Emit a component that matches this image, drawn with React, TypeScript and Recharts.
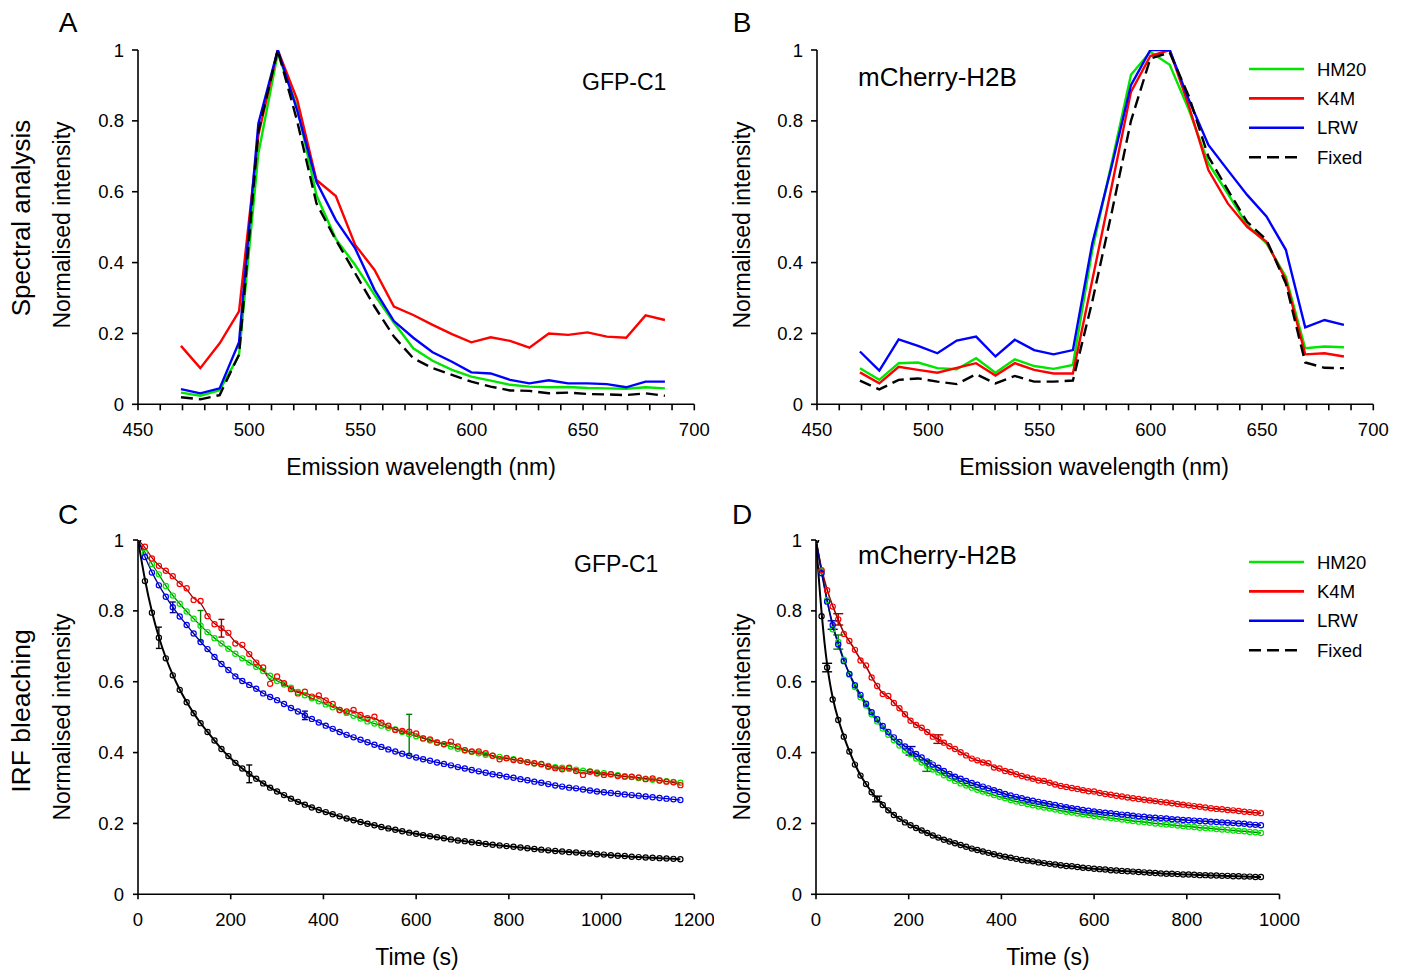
import React from 'react';
import { LineChart, Line, XAxis, YAxis, ErrorBar, Legend } from 'recharts';

const FONT = '"Liberation Sans", Arial, Helvetica, sans-serif';
const GREEN = '#00e600';
const RED = '#ff0000';
const BLUE = '#0000ff';
const BLACK = '#000000';
const DARK_GREEN = '#008000';
const DARK_RED = '#990000';
const DARK_BLUE = '#00008b';

// ---------- Spectral analysis (A, B) ----------
const wavelengths = [469.3, 478.0, 486.7, 495.4, 504.1, 512.8, 521.5, 530.2, 538.9, 547.6, 556.3, 565.0, 573.7,
  582.4, 591.1, 599.8, 608.5, 617.2, 625.9, 634.6, 643.3, 652.0, 660.7, 669.4, 678.1, 686.8];
const wavelengthTicks = [450, 460, 470, 480, 490, 500, 510, 520, 530, 540, 550, 560, 570, 580, 590, 600, 610, 620,
  630, 640, 650, 660, 670, 680, 690, 700];
const intensityTicks = [0, 0.2, 0.4, 0.6, 0.8, 1];

const gfpSpecHM20 = [0.033, 0.024, 0.040, 0.139, 0.708, 0.990, 0.840, 0.590, 0.467, 0.393, 0.309, 0.230, 0.158,
  0.123, 0.097, 0.078, 0.067, 0.055, 0.050, 0.048, 0.049, 0.046, 0.045, 0.044, 0.048, 0.045];
const gfpSpecK4M = [0.165, 0.102, 0.172, 0.262, 0.760, 1.000, 0.861, 0.633, 0.588, 0.450, 0.379, 0.276, 0.252,
  0.224, 0.198, 0.175, 0.189, 0.179, 0.160, 0.200, 0.196, 0.203, 0.191, 0.188, 0.251, 0.238];
const gfpSpecLRW = [0.043, 0.031, 0.045, 0.175, 0.793, 1.000, 0.830, 0.628, 0.520, 0.440, 0.323, 0.235, 0.188,
  0.147, 0.120, 0.090, 0.087, 0.069, 0.059, 0.068, 0.059, 0.059, 0.057, 0.048, 0.064, 0.064];
const gfpSpecFixed = [0.020, 0.014, 0.026, 0.140, 0.770, 1.000, 0.800, 0.567, 0.464, 0.370, 0.276, 0.191, 0.130,
  0.102, 0.083, 0.064, 0.050, 0.039, 0.038, 0.031, 0.033, 0.029, 0.028, 0.026, 0.031, 0.024];

const mchSpecHM20 = [0.102, 0.069, 0.116, 0.118, 0.102, 0.099, 0.130, 0.089, 0.127, 0.108, 0.100, 0.111, 0.435,
  0.680, 0.930, 0.995, 0.958, 0.830, 0.680, 0.595, 0.506, 0.454, 0.360, 0.158, 0.163, 0.161];
const mchSpecK4M = [0.090, 0.059, 0.106, 0.097, 0.089, 0.103, 0.116, 0.081, 0.116, 0.097, 0.087, 0.087, 0.350,
  0.614, 0.882, 0.983, 1.000, 0.840, 0.661, 0.567, 0.501, 0.459, 0.351, 0.141, 0.144, 0.135];
const mchSpecLRW = [0.149, 0.095, 0.183, 0.165, 0.144, 0.180, 0.191, 0.135, 0.182, 0.153, 0.141, 0.153, 0.454,
  0.671, 0.901, 1.000, 1.000, 0.858, 0.732, 0.661, 0.591, 0.530, 0.436, 0.217, 0.238, 0.224];
const mchSpecFixed = [0.067, 0.042, 0.069, 0.073, 0.064, 0.057, 0.085, 0.059, 0.080, 0.064, 0.064, 0.067, 0.290,
  0.540, 0.800, 0.976, 0.993, 0.868, 0.699, 0.605, 0.515, 0.464, 0.341, 0.118, 0.103, 0.102];

// ---------- IRF bleaching (C, D) ----------
const GFP_STEP_S = 15;
const MCH_STEP_S = 12;
const gfpTimeTicks = [0, 200, 400, 600, 800, 1000, 1200];
const mchTimeTicks = [0, 200, 400, 600, 800, 1000];

const gfpBleachHM20 = [1.000, 0.965, 0.932, 0.903, 0.870, 0.843, 0.820, 0.798, 0.778, 0.758,
  0.740, 0.723, 0.708, 0.693, 0.679, 0.666, 0.654, 0.642, 0.630, 0.617,
  0.602, 0.592, 0.583, 0.571, 0.562, 0.553, 0.545, 0.536, 0.528, 0.520,
  0.512, 0.504, 0.496, 0.488, 0.482, 0.476, 0.470, 0.465, 0.458, 0.452,
  0.446, 0.440, 0.434, 0.429, 0.423, 0.417, 0.411, 0.406, 0.402, 0.398,
  0.394, 0.391, 0.388, 0.385, 0.381, 0.377, 0.373, 0.369, 0.366, 0.362,
  0.359, 0.357, 0.354, 0.352, 0.349, 0.347, 0.344, 0.342, 0.339, 0.336,
  0.333, 0.331, 0.328, 0.326, 0.323, 0.321, 0.319, 0.317, 0.315];
const gfpBleachK4M = [1.000, 0.981, 0.948, 0.927, 0.913, 0.898, 0.876, 0.864, 0.831, 0.828,
  0.785, 0.762, 0.751, 0.738, 0.708, 0.704, 0.678, 0.654, 0.640, 0.594,
  0.615, 0.596, 0.579, 0.567, 0.572, 0.558, 0.561, 0.547, 0.537, 0.520,
  0.516, 0.520, 0.506, 0.497, 0.501, 0.484, 0.476, 0.464, 0.461, 0.459,
  0.454, 0.440, 0.437, 0.428, 0.424, 0.431, 0.417, 0.407, 0.403, 0.403,
  0.398, 0.391, 0.381, 0.384, 0.379, 0.377, 0.373, 0.370, 0.368, 0.360,
  0.356, 0.353, 0.357, 0.348, 0.337, 0.346, 0.341, 0.337, 0.339, 0.334,
  0.332, 0.332, 0.330, 0.325, 0.327, 0.321, 0.318, 0.316, 0.308];
const gfpBleachLRW = [1.000, 0.952, 0.908, 0.872, 0.840, 0.810, 0.784, 0.760, 0.736, 0.712,
  0.692, 0.670, 0.650, 0.633, 0.615, 0.602, 0.591, 0.580, 0.567, 0.557,
  0.548, 0.537, 0.526, 0.516, 0.505, 0.495, 0.485, 0.476, 0.467, 0.458,
  0.450, 0.443, 0.436, 0.429, 0.422, 0.416, 0.409, 0.403, 0.397, 0.391,
  0.386, 0.381, 0.377, 0.372, 0.368, 0.364, 0.359, 0.355, 0.351, 0.347,
  0.343, 0.339, 0.336, 0.332, 0.329, 0.325, 0.322, 0.318, 0.315, 0.311,
  0.307, 0.304, 0.301, 0.299, 0.296, 0.293, 0.290, 0.288, 0.286, 0.284,
  0.282, 0.280, 0.278, 0.276, 0.274, 0.272, 0.270, 0.268, 0.266];
const gfpBleachFixed = [1.000, 0.884, 0.795, 0.724, 0.666, 0.618, 0.577, 0.542, 0.511, 0.483,
  0.458, 0.434, 0.410, 0.390, 0.371, 0.355, 0.340, 0.326, 0.313, 0.301,
  0.290, 0.280, 0.270, 0.261, 0.253, 0.245, 0.238, 0.232, 0.226, 0.220,
  0.214, 0.209, 0.204, 0.199, 0.195, 0.190, 0.186, 0.182, 0.178, 0.174,
  0.171, 0.167, 0.164, 0.161, 0.158, 0.155, 0.152, 0.150, 0.147, 0.145,
  0.142, 0.140, 0.138, 0.136, 0.134, 0.132, 0.130, 0.128, 0.126, 0.124,
  0.122, 0.121, 0.119, 0.118, 0.116, 0.115, 0.113, 0.112, 0.110, 0.109,
  0.108, 0.106, 0.105, 0.104, 0.103, 0.102, 0.101, 0.100, 0.099];

const mchBleachHM20 = [1.000, 0.912, 0.830, 0.748, 0.712, 0.662, 0.620, 0.585, 0.556, 0.533,
  0.508, 0.488, 0.468, 0.450, 0.435, 0.420, 0.406, 0.395, 0.383, 0.372,
  0.362, 0.352, 0.344, 0.336, 0.328, 0.320, 0.313, 0.307, 0.301, 0.295,
  0.290, 0.285, 0.280, 0.275, 0.271, 0.266, 0.262, 0.258, 0.255, 0.251,
  0.248, 0.245, 0.242, 0.239, 0.236, 0.233, 0.231, 0.228, 0.226, 0.224,
  0.221, 0.219, 0.217, 0.215, 0.213, 0.211, 0.209, 0.207, 0.205, 0.204,
  0.202, 0.200, 0.199, 0.197, 0.196, 0.194, 0.193, 0.191, 0.190, 0.188,
  0.187, 0.186, 0.184, 0.183, 0.182, 0.180, 0.179, 0.178, 0.176, 0.175,
  0.173];
const mchBleachK4M = [1.000, 0.915, 0.858, 0.812, 0.776, 0.735, 0.715, 0.690, 0.660, 0.646,
  0.612, 0.588, 0.565, 0.560, 0.540, 0.525, 0.508, 0.490, 0.478, 0.470,
  0.458, 0.445, 0.438, 0.428, 0.418, 0.410, 0.401, 0.392, 0.383, 0.378,
  0.372, 0.370, 0.358, 0.355, 0.348, 0.345, 0.339, 0.334, 0.330, 0.326,
  0.321, 0.320, 0.315, 0.310, 0.306, 0.303, 0.300, 0.297, 0.294, 0.291,
  0.290, 0.286, 0.283, 0.281, 0.278, 0.276, 0.273, 0.271, 0.269, 0.267,
  0.265, 0.263, 0.261, 0.259, 0.257, 0.255, 0.253, 0.251, 0.249, 0.247,
  0.245, 0.243, 0.241, 0.240, 0.238, 0.237, 0.235, 0.233, 0.232, 0.230,
  0.229];
const mchBleachLRW = [1.000, 0.906, 0.826, 0.760, 0.705, 0.658, 0.622, 0.590, 0.563, 0.538,
  0.514, 0.494, 0.475, 0.458, 0.443, 0.430, 0.417, 0.405, 0.396, 0.386,
  0.375, 0.366, 0.357, 0.348, 0.340, 0.332, 0.326, 0.320, 0.314, 0.309,
  0.304, 0.299, 0.294, 0.289, 0.283, 0.279, 0.275, 0.271, 0.267, 0.264,
  0.261, 0.258, 0.255, 0.252, 0.249, 0.246, 0.243, 0.241, 0.238, 0.236,
  0.234, 0.232, 0.230, 0.229, 0.227, 0.225, 0.224, 0.222, 0.220, 0.219,
  0.217, 0.216, 0.215, 0.214, 0.212, 0.211, 0.210, 0.209, 0.208, 0.207,
  0.206, 0.205, 0.204, 0.203, 0.202, 0.201, 0.200, 0.199, 0.197, 0.196,
  0.195];
const mchBleachFixed = [1.000, 0.785, 0.640, 0.550, 0.492, 0.445, 0.403, 0.366, 0.335, 0.311,
  0.288, 0.269, 0.252, 0.237, 0.224, 0.213, 0.203, 0.195, 0.187, 0.180,
  0.173, 0.166, 0.160, 0.154, 0.149, 0.144, 0.139, 0.134, 0.129, 0.125,
  0.121, 0.117, 0.113, 0.109, 0.106, 0.103, 0.100, 0.097, 0.095, 0.093,
  0.090, 0.088, 0.086, 0.084, 0.082, 0.080, 0.079, 0.077, 0.075, 0.074,
  0.072, 0.071, 0.070, 0.068, 0.067, 0.066, 0.065, 0.064, 0.063, 0.062,
  0.061, 0.060, 0.059, 0.058, 0.058, 0.057, 0.056, 0.056, 0.055, 0.054,
  0.054, 0.053, 0.053, 0.052, 0.052, 0.051, 0.051, 0.050, 0.050, 0.049,
  0.049];

// error bars: [time (s), half-range]
const gfpErrHM20: [number, number][] = [[135, 0.043], [585, 0.056]];
const gfpErrK4M: [number, number][] = [[180, 0.025]];
const gfpErrLRW: [number, number][] = [[75, 0.015], [360, 0.012]];
const gfpErrFixed: [number, number][] = [[45, 0.03], [240, 0.025]];
const mchErrHM20: [number, number][] = [[48, 0.02], [240, 0.015]];
const mchErrK4M: [number, number][] = [[48, 0.016], [264, 0.012]];
const mchErrLRW: [number, number][] = [[36, 0.012], [204, 0.012]];
const mchErrFixed: [number, number][] = [[24, 0.012], [132, 0.008]];

const gfpTimes = gfpBleachFixed.map((_, i) => i * GFP_STEP_S);
const mchTimes = mchBleachFixed.map((_, i) => i * MCH_STEP_S);

// ---------- layout helpers ----------
type Box = { pl: number; pr: number; pt: number; pb: number };
const MARGIN = { top: 20, right: 20, bottom: 50, left: 0 };
const Y_W = 80;
const X_H = 30;
function frame(b: Box) {
  return {
    left: b.pl - Y_W - MARGIN.left,
    top: b.pt - MARGIN.top,
    width: b.pr - b.pl + Y_W + MARGIN.left + MARGIN.right,
    height: b.pb - b.pt + MARGIN.top + MARGIN.bottom + X_H,
  };
}

const AXIS_STYLE = { stroke: '#000', strokeWidth: 1.6 };
const TICK_STYLE = { fill: '#000', fontSize: 18.5, fontFamily: FONT };

const legendItems = [
  { name: 'HM20', color: GREEN, dash: undefined as string | undefined, len: 55 },
  { name: 'K4M', color: RED, dash: undefined as string | undefined, len: 55 },
  { name: 'LRW', color: BLUE, dash: undefined as string | undefined, len: 55 },
  { name: 'Fixed', color: BLACK, dash: '12 6', len: 48 },
];

function LegendBox() {
  return (
    <svg width={150} height={116} style={{ display: 'block', overflow: 'visible' }}>
      {legendItems.map((it, i) => {
        const y = 14 + i * 29.4;
        return (
          <g key={it.name}>
            <line x1={5} x2={5 + it.len} y1={y} y2={y} stroke={it.color} strokeWidth={2.6} strokeDasharray={it.dash} />
            <text x={73} y={y} dy="0.355em" fontSize={18.5} fontFamily={FONT} fill="#000">{it.name}</text>
          </g>
        );
      })}
    </svg>
  );
}

type SpecSet = { HM20: number[]; K4M: number[]; LRW: number[]; Fixed: number[] };

function SpectrumPanel({ box, set, legendAt }: { box: Box; set: SpecSet; legendAt?: { left: number; top: number } }) {
  const f = frame(box);
  const rows = wavelengths.map((w, i) => ({ w, HM20: set.HM20[i], K4M: set.K4M[i], LRW: set.LRW[i], Fixed: set.Fixed[i] }));
  return (
    <div style={{ position: 'absolute', left: f.left, top: f.top }}>
      <LineChart width={f.width} height={f.height} data={rows} margin={MARGIN}>
        <XAxis type="number" dataKey="w" domain={[450, 700]} ticks={wavelengthTicks} interval={0} allowDataOverflow
          tickFormatter={(v: number) => (v % 50 === 0 ? String(v) : '')} height={X_H}
          tickSize={6} tickMargin={13} axisLine={AXIS_STYLE} tickLine={AXIS_STYLE} tick={TICK_STYLE} />
        <YAxis type="number" domain={[0, 1]} ticks={intensityTicks} interval={0} allowDataOverflow width={Y_W}
          tickSize={6} tickMargin={8} axisLine={AXIS_STYLE} tickLine={AXIS_STYLE} tick={TICK_STYLE} />
        <Line dataKey="HM20" stroke={GREEN} strokeWidth={2.4} dot={false} activeDot={false} type="linear" isAnimationActive={false} />
        <Line dataKey="K4M" stroke={RED} strokeWidth={2.4} dot={false} activeDot={false} type="linear" isAnimationActive={false} />
        <Line dataKey="LRW" stroke={BLUE} strokeWidth={2.4} dot={false} activeDot={false} type="linear" isAnimationActive={false} />
        <Line dataKey="Fixed" stroke={BLACK} strokeWidth={2.4} strokeDasharray="12 6" dot={false} activeDot={false} type="linear" isAnimationActive={false} />
        {legendAt && (
          <Legend content={() => <LegendBox />} layout="vertical" align="center" verticalAlign="middle"
            wrapperStyle={{ left: legendAt.left - f.left, top: legendAt.top - f.top, width: 150, height: 116 }} />
        )}
      </LineChart>
    </div>
  );
}

type BleachSeries = { key: string; values: number[]; errs: [number, number][]; dot: string; fit: string; fitWidth: number };

const hollowDot = (color: string) => (props: any) => {
  const { cx, cy, index } = props;
  if (cx == null || cy == null) return <g key={`d${index}`} />;
  return <circle key={`d${index}`} cx={cx} cy={cy} r={2.6} fill="none" stroke={color} strokeWidth={1.2} />;
};

function BleachPanel({ box, times, series, domainMax, ticks, capW, legendAt }: {
  box: Box; times: number[]; series: BleachSeries[]; domainMax: number; ticks: number[]; capW: number;
  legendAt?: { left: number; top: number };
}) {
  const f = frame(box);
  const rows = times.map((t, i) => {
    const row: Record<string, number | undefined> = { t };
    series.forEach((s) => {
      row[s.key] = s.values[i];
      const e = s.errs.find(([et]) => et === t);
      if (e) row[s.key + 'Err'] = e[1];
    });
    return row;
  });
  return (
    <div style={{ position: 'absolute', left: f.left, top: f.top }}>
      <LineChart width={f.width} height={f.height} data={rows} margin={MARGIN}>
        <XAxis type="number" dataKey="t" domain={[0, domainMax]} ticks={ticks} interval={0} allowDataOverflow height={X_H}
          tickSize={5} tickMargin={14} axisLine={AXIS_STYLE} tickLine={AXIS_STYLE} tick={TICK_STYLE} />
        <YAxis type="number" domain={[0, 1]} ticks={intensityTicks} interval={0} allowDataOverflow width={Y_W}
          tickSize={5} tickMargin={9} axisLine={AXIS_STYLE} tickLine={AXIS_STYLE} tick={TICK_STYLE} />
        {series.map((s) => (
          <Line key={s.key} dataKey={s.key} stroke={s.fit} strokeWidth={s.fitWidth} type="basis"
            dot={hollowDot(s.dot)} activeDot={false} isAnimationActive={false}>
            <ErrorBar dataKey={s.key + 'Err'} direction="y" width={capW} stroke={s.fit} strokeWidth={1.4} isAnimationActive={false} />
          </Line>
        ))}
        {legendAt && (
          <Legend content={() => <LegendBox />} layout="vertical" align="center" verticalAlign="middle"
            wrapperStyle={{ left: legendAt.left - f.left, top: legendAt.top - f.top, width: 150, height: 116 }} />
        )}
      </LineChart>
    </div>
  );
}

const boxA: Box = { pl: 137.7, pr: 694, pt: 50, pb: 404.3 };
const boxB: Box = { pl: 816.7, pr: 1373, pt: 50, pb: 404.3 };
const boxC: Box = { pl: 138.1, pr: 694.4, pt: 540, pb: 894.3 };
const boxD: Box = { pl: 816, pr: 1279.5, pt: 540, pb: 894.3 };

const gfpSeries: BleachSeries[] = [
  { key: 'HM20', values: gfpBleachHM20, errs: gfpErrHM20, dot: GREEN, fit: DARK_GREEN, fitWidth: 1.3 },
  { key: 'K4M', values: gfpBleachK4M, errs: gfpErrK4M, dot: RED, fit: DARK_RED, fitWidth: 1.3 },
  { key: 'LRW', values: gfpBleachLRW, errs: gfpErrLRW, dot: BLUE, fit: DARK_BLUE, fitWidth: 1.3 },
  { key: 'Fixed', values: gfpBleachFixed, errs: gfpErrFixed, dot: BLACK, fit: BLACK, fitWidth: 2 },
];
const mchSeries: BleachSeries[] = [
  { key: 'HM20', values: mchBleachHM20, errs: mchErrHM20, dot: GREEN, fit: DARK_GREEN, fitWidth: 1.5 },
  { key: 'K4M', values: mchBleachK4M, errs: mchErrK4M, dot: RED, fit: DARK_RED, fitWidth: 1.6 },
  { key: 'LRW', values: mchBleachLRW, errs: mchErrLRW, dot: BLUE, fit: DARK_BLUE, fitWidth: 1.6 },
  { key: 'Fixed', values: mchBleachFixed, errs: mchErrFixed, dot: BLACK, fit: BLACK, fitWidth: 2 },
];

function Overlay() {
  const t = (x: number, y: number, s: string, size: number, anchor: 'start' | 'middle' | 'end' = 'middle', rot = false) => (
    <text key={s + x + y} x={rot ? 0 : x} y={rot ? 0 : y} transform={rot ? `translate(${x},${y}) rotate(-90)` : undefined}
      textAnchor={anchor} fontSize={size} fontFamily={FONT} fill="#000">{s}</text>
  );
  return (
    <svg width={1405} height={971} style={{ position: 'absolute', left: 0, top: 0, pointerEvents: 'none' }}>
      {t(68, 32, 'A', 28)}
      {t(742, 32, 'B', 28)}
      {t(68, 524, 'C', 28)}
      {t(742, 524, 'D', 28)}
      {t(29.5, 218, 'Spectral analysis', 26, 'middle', true)}
      {t(29.5, 711, 'IRF bleaching', 26.5, 'middle', true)}
      {t(70, 225, 'Normalised intensity', 23, 'middle', true)}
      {t(750, 225, 'Normalised intensity', 23, 'middle', true)}
      {t(70, 717, 'Normalised intensity', 23, 'middle', true)}
      {t(750, 717, 'Normalised intensity', 23, 'middle', true)}
      {t(421, 475, 'Emission wavelength (nm)', 23)}
      {t(1094, 475, 'Emission wavelength (nm)', 23)}
      {t(417, 965, 'Time (s)', 23)}
      {t(1048, 965, 'Time (s)', 23)}
      {t(582, 89.5, 'GFP-C1', 23, 'start')}
      {t(574, 572, 'GFP-C1', 23, 'start')}
      {t(858, 85.5, 'mCherry-H2B', 26, 'start')}
      {t(858, 564, 'mCherry-H2B', 26, 'start')}
    </svg>
  );
}

export default function App() {
  return (
    <div style={{ position: 'absolute', left: 0, top: 0, width: 1405, height: 971, background: '#fff', fontFamily: FONT }}>
      <SpectrumPanel box={boxA} set={{ HM20: gfpSpecHM20, K4M: gfpSpecK4M, LRW: gfpSpecLRW, Fixed: gfpSpecFixed }} />
      <SpectrumPanel box={boxB} set={{ HM20: mchSpecHM20, K4M: mchSpecK4M, LRW: mchSpecLRW, Fixed: mchSpecFixed }}
        legendAt={{ left: 1244, top: 55 }} />
      <BleachPanel box={boxC} times={gfpTimes} series={gfpSeries} domainMax={1200} ticks={gfpTimeTicks} capW={3} />
      <BleachPanel box={boxD} times={mchTimes} series={mchSeries} domainMax={1000} ticks={mchTimeTicks} capW={5}
        legendAt={{ left: 1244, top: 548 }} />
      <Overlay />
    </div>
  );
}
